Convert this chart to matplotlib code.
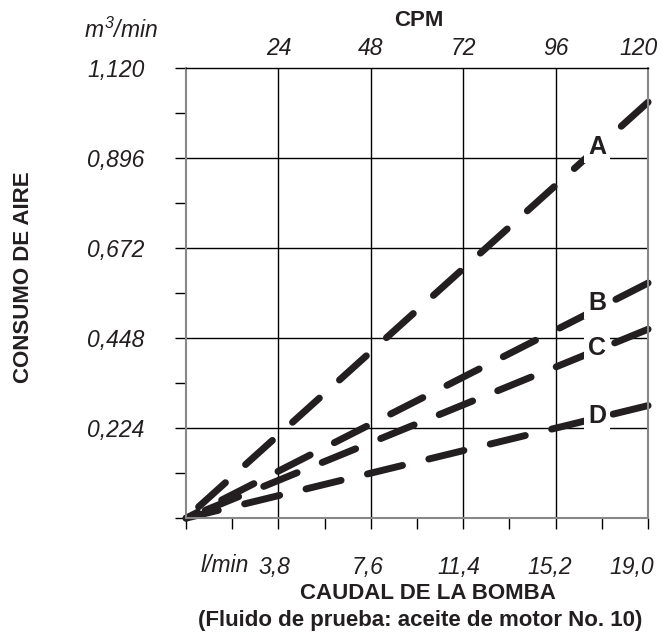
import matplotlib
matplotlib.use('Agg')
import matplotlib.pyplot as plt
import matplotlib.transforms as mtransforms
import numpy as np

plt.rcParams['font.family'] = ['Liberation Sans', 'DejaVu Sans']
plt.rcParams['mathtext.fontset'] = 'custom'
plt.rcParams['mathtext.it'] = 'Liberation Sans:italic'
plt.rcParams['mathtext.rm'] = 'Liberation Sans:italic'

# data
flow = [0.0, 19.0]              # l/min
air_a = [0.0, 1.035]            # m3/min
air_b = [0.0, 0.585]
air_c = [0.0, 0.470]
air_d = [0.0, 0.280]
curve_names = ['A', 'B', 'C', 'D']
label_y = [0.923, 0.535, 0.423, 0.254]
label_x = 16.9

x_ticks = [3.8, 7.6, 11.4, 15.2, 19.0]
x_ticklabels = ['3,8', '7,6', '11,4', '15,2', '19,0']
cpm_labels = ['24', '48', '72', '96', '120']
y_ticks = [0.224, 0.448, 0.672, 0.896, 1.120]
y_ticklabels = ['0,224', '0,448', '0,672', '0,896', '1,120']

ink = '#231f20'
fs = 16.5

fig = plt.figure(figsize=(6.62, 6.35), dpi=100)
ax = fig.add_axes([0.281, 0.184, 0.698, 0.709])

ax.set_xlim(0, 19.0)
ax.set_ylim(0, 1.120)

# grid
for xv in x_ticks[:-1]:
    ax.axvline(xv, color='black', lw=1.0, zorder=1)
for yv in y_ticks[:-1]:
    ax.axhline(yv, color='black', lw=1.0, zorder=1)

# drawn from the right end so that a dash starts at x = 19
for ys in [air_a, air_b, air_c, air_d]:
    ax.plot(flow[::-1], ys[::-1], color=ink, lw=5, dashes=(5.2, 3.9),
            dash_capstyle='round', solid_capstyle='round', zorder=2, clip_on=False)

for name, ly in zip(curve_names, label_y):
    ax.text(label_x, ly, name, fontsize=18, fontweight='bold', color=ink,
            ha='center', va='center', zorder=3,
            bbox=dict(facecolor='white', edgecolor='none', pad=3))

ax.set_xticks(x_ticks)
ax.set_xticklabels(x_ticklabels, fontsize=fs, style='italic', color=ink)
ax.set_xticks(np.arange(0, 19.01, 1.9), minor=True)
ax.set_yticks(y_ticks)
ax.set_yticklabels(y_ticklabels, fontsize=fs, style='italic', color=ink)
ax.set_yticks(np.arange(0, 1.121, 0.112), minor=True)
ax.tick_params(axis='x', which='both', direction='out', length=8, width=1, pad=19)
ax.tick_params(axis='y', which='both', direction='out', length=8, width=1, pad=22)

# small horizontal nudges of the bottom labels, as in the reference
shifts = [-4, -3, -4, -6, -16]
for lab, dx in zip(ax.get_xticklabels(), shifts):
    lab.set_transform(lab.get_transform() +
                      mtransforms.ScaledTranslation(dx / 100, 0, fig.dpi_scale_trans))

for s in ['left', 'right', 'bottom']:
    ax.spines[s].set_color('#888888')
    ax.spines[s].set_linewidth(1.5)
ax.spines['top'].set_color('black')
ax.spines['top'].set_linewidth(1.0)

top = ax.twiny()
top.set_xlim(ax.get_xlim())
top.set_xticks(x_ticks)
top.set_xticklabels(cpm_labels, fontsize=fs, style='italic', color=ink)
top.tick_params(axis='x', length=0, pad=6)
top.get_xticklabels()[-1].set_transform(
    top.get_xticklabels()[-1].get_transform() +
    mtransforms.ScaledTranslation(-10 / 100, 0, fig.dpi_scale_trans))
for s in top.spines.values():
    s.set_visible(False)

fig.text(0.633, 0.967, 'CPM', fontsize=16, fontweight='bold', ha='center', va='center', color=ink)
fig.text(0.183, 0.952, r'$m^3$/min', fontsize=fs, style='italic', ha='center', va='center', color=ink)
fig.text(0.340, 0.110, 'l/min', fontsize=fs, style='italic', ha='center', va='center', color=ink)
fig.text(0.036, 0.564, 'CONSUMO DE AIRE', fontsize=16, fontweight='bold', rotation=90,
         ha='center', va='center', color=ink)
fig.text(0.646, 0.066, 'CAUDAL DE LA BOMBA', fontsize=16, fontweight='bold',
         ha='center', va='center', color=ink)
fig.text(0.634, 0.023, '(Fluido de prueba: aceite de motor No. 10)', fontsize=16,
         fontweight='bold', ha='center', va='center', color=ink)

fig.savefig('out.png', dpi=100)
